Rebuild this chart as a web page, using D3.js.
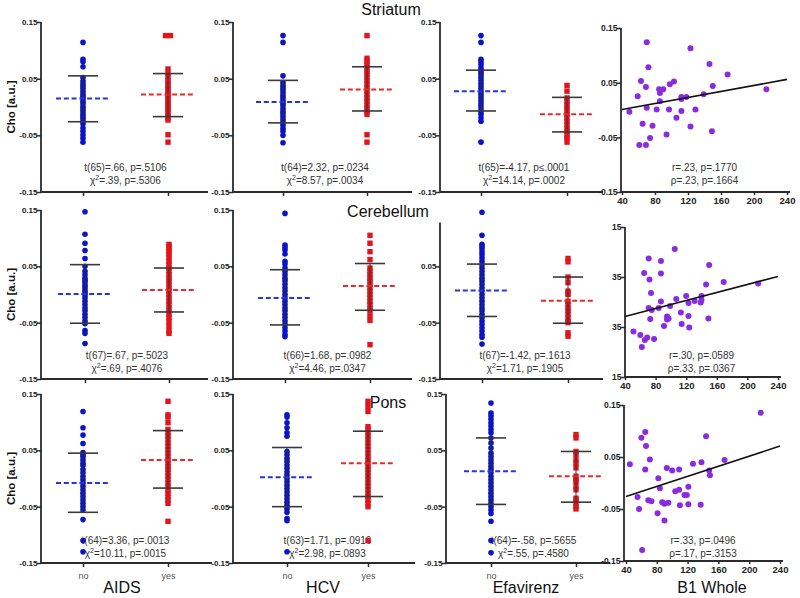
<!DOCTYPE html>
<html><head><meta charset="utf-8">
<script src="https://cdn.jsdelivr.net/npm/d3@7"></script>
<style>
body{margin:0;background:#fff}
svg{display:block;font-family:"Liberation Sans",Arial,sans-serif}
</style>
</head><body>
<svg id="chart" width="800" height="598"></svg>
<script>
// ---------------- DATA ----------------
const regions = ["Striatum", "Cerebellum", "Pons"];
const factors = ["AIDS", "HCV", "Efavirenz"];
const categories = ["no", "yes"];
const yTickValues = [0.15, 0.05, -0.05, -0.15];
const b1Ticks = [40, 80, 120, 160, 200, 240];
const cerScatterYLabels = ["15", "35", "35", "15"];

// Striatum Cho values (no / yes)
const strAidsNo = [0.114,0.084,0.080,0.071,0.052,0.046,0.041,0.037,0.033,0.028,0.023,0.019,0.015,0.010,0.006,0.001,-0.003,-0.007,-0.012,-0.016,-0.020,-0.025,-0.030,-0.037,-0.043,-0.049,-0.055,-0.062];
const strAidsYes = [0.126,0.126,0.067,0.059,0.053,0.047,0.042,0.038,0.033,0.028,0.023,0.019,0.014,0.009,0.004,0.000,-0.005,-0.010,-0.015,-0.019,-0.023,-0.049,-0.062];
const strHcvNo = [0.126,0.114,0.055,0.043,0.038,0.034,0.030,0.025,0.020,0.016,0.011,0.006,0.002,-0.003,-0.008,-0.012,-0.017,-0.022,-0.027,-0.032,-0.038,-0.043,-0.050,-0.063];
const strHcvYes = [0.126,0.086,0.081,0.075,0.069,0.063,0.058,0.052,0.046,0.040,0.034,0.028,0.022,0.016,0.010,0.004,-0.002,-0.008,-0.013,-0.049,-0.062];
const strEfvNo = [0.126,0.114,0.084,0.080,0.075,0.069,0.065,0.061,0.057,0.052,0.047,0.042,0.037,0.032,0.027,0.022,0.017,0.012,0.007,0.002,-0.003,-0.008,-0.013,-0.019,-0.025,-0.062];
const strEfvYes = [0.038,0.028,0.016,0.010,0.004,-0.001,-0.007,-0.013,-0.019,-0.025,-0.031,-0.037,-0.043,-0.049,-0.055,-0.062];

// Cerebellum
const cerAidsNo = [0.147,0.107,0.091,0.078,0.064,0.050,0.041,0.035,0.029,0.025,0.021,0.016,0.012,0.007,0.003,-0.001,-0.006,-0.012,-0.018,-0.024,-0.029,-0.035,-0.041,-0.047,-0.052,-0.064,-0.069,-0.087];
const cerAidsYes = [0.089,0.085,0.081,0.076,0.071,0.065,0.059,0.053,0.047,0.041,0.035,0.029,0.024,0.018,0.012,0.006,0.000,-0.006,-0.012,-0.018,-0.024,-0.029,-0.035,-0.041,-0.048,-0.056,-0.064,-0.069];
const cerHcvNo = [0.144,0.088,0.084,0.079,0.072,0.059,0.054,0.047,0.041,0.035,0.029,0.024,0.018,0.012,0.006,0.000,-0.006,-0.012,-0.018,-0.024,-0.029,-0.035,-0.041,-0.047,-0.053,-0.059,-0.065,-0.071,-0.075];
const cerHcvYes = [0.105,0.091,0.076,0.062,0.047,0.041,0.035,0.029,0.024,0.018,0.012,0.006,0.000,-0.006,-0.012,-0.018,-0.024,-0.029,-0.038,-0.046,-0.089];
const cerEfvNo = [0.146,0.105,0.089,0.085,0.081,0.076,0.071,0.065,0.059,0.053,0.047,0.041,0.035,0.029,0.024,0.018,0.012,0.006,0.000,-0.006,-0.012,-0.018,-0.024,-0.029,-0.035,-0.041,-0.047,-0.053,-0.059,-0.065,-0.071,-0.076,-0.088];
const cerEfvYes = [0.064,0.058,0.031,0.021,0.006,0.003,0.000,-0.012,-0.018,-0.024,-0.029,-0.035,-0.041,-0.047,-0.050,-0.068,-0.074];

// Pons
const ponAidsNo = [0.119,0.090,0.077,0.062,0.046,0.042,0.039,0.033,0.027,0.023,0.016,0.010,0.004,-0.002,-0.008,-0.014,-0.020,-0.026,-0.032,-0.038,-0.044,-0.050,-0.056,-0.073,-0.110,-0.130];
const ponAidsYes = [0.137,0.113,0.109,0.099,0.087,0.081,0.075,0.069,0.063,0.057,0.051,0.045,0.039,0.033,0.027,0.021,0.016,0.010,0.004,-0.002,-0.008,-0.014,-0.020,-0.026,-0.032,-0.038,-0.044,-0.076];
const ponHcvNo = [0.113,0.109,0.099,0.090,0.081,0.075,0.048,0.042,0.036,0.030,0.024,0.018,0.012,0.006,0.000,-0.006,-0.012,-0.018,-0.024,-0.030,-0.036,-0.042,-0.048,-0.054,-0.060,-0.071,-0.075,-0.130];
const ponHcvYes = [0.137,0.128,0.119,0.092,0.087,0.081,0.075,0.069,0.063,0.057,0.051,0.045,0.039,0.033,0.027,0.021,0.016,0.010,0.004,-0.002,-0.008,-0.014,-0.020,-0.026,-0.032,-0.038,-0.044,-0.050,-0.110];
const ponEfvNo = [0.134,0.116,0.111,0.105,0.099,0.093,0.087,0.081,0.072,0.063,0.054,0.045,0.039,0.033,0.027,0.021,0.016,0.010,0.004,-0.002,-0.008,-0.014,-0.020,-0.026,-0.032,-0.038,-0.044,-0.050,-0.056,-0.062,-0.076,-0.110,-0.132];
const ponEfvYes = [0.078,0.072,0.048,0.042,0.033,0.027,0.019,0.004,-0.002,-0.005,-0.014,-0.020,-0.035,-0.038,-0.044,-0.050,-0.054];

// Group means and mean±SD bars, order: AIDS no, AIDS yes, HCV no, HCV yes, Efv no, Efv yes
const strMeans = [0.015, 0.022, 0.009, 0.031, 0.028, -0.013];
const strSdHi  = [0.055, 0.059, 0.047, 0.071, 0.065, 0.017];
const strSdLo  = [-0.026, -0.017, -0.028, -0.007, -0.007, -0.044];
const cerMeans = [0.001, 0.008, -0.006, 0.015, 0.007, -0.011];
const cerSdHi  = [0.053, 0.047, 0.044, 0.055, 0.054, 0.031];
const cerSdLo  = [-0.051, -0.031, -0.054, -0.028, -0.039, -0.051];
const ponMeans = [-0.008, 0.033, 0.002, 0.027, 0.013, 0.004];
const ponSdHi  = [0.045, 0.085, 0.055, 0.084, 0.072, 0.048];
const ponSdLo  = [-0.060, -0.017, -0.050, -0.032, -0.046, -0.042];

// B1 Whole scatter
const strB1 = [49,59,61,63,65,69,70,69,70,72,74,77,82,85,86,86,90,94,97,98,103,106,112,112,112,118,123,123,129,139,146,149,150,168,215];
const strB1Cho = [-0.003,0.025,-0.064,0.053,-0.025,0.042,0.124,-0.064,0.004,0.078,-0.051,-0.029,0.001,0.038,0.031,0.016,0.038,-0.045,0.001,0.047,0.052,-0.014,-0.002,0.024,0.020,0.024,0.113,-0.030,0.001,0.029,0.084,-0.039,0.044,0.065,0.038];
const cerB1 = [51,60,62,65,66,69,71,72,71,73,74,75,78,84,87,87,87,91,95,97,99,95,105,107,113,114,120,123,123,124,131,139,140,140,146,149,150,169,214];
const cerB1Cho = [-0.059,-0.066,-0.090,0.058,-0.076,-0.071,0.087,0.045,-0.012,-0.034,0.018,-0.016,-0.074,-0.012,0.001,0.082,0.057,-0.048,-0.029,-0.033,-0.008,-0.035,0.106,0.006,-0.021,-0.044,0.012,-0.002,-0.028,-0.051,0.002,-0.001,0.012,0.004,0.035,-0.033,0.074,0.040,0.037];
const ponB1 = [45,55,57,60,61,65,65,66,69,71,73,82,81,84,87,90,90,93,95,100,104,109,109,110,116,119,121,121,127,137,138,144,148,149,168,215];
const ponB1Cho = [0.036,-0.027,-0.050,0.087,-0.129,0.098,0.026,0.071,-0.033,0.045,-0.035,0.009,-0.058,-0.010,-0.037,-0.072,-0.040,0.029,-0.038,0.024,-0.016,0.026,-0.013,-0.043,-0.023,-0.023,-0.007,-0.041,0.037,-0.042,0.040,0.090,0.024,0.015,0.044,0.135];
const fitB1 = [40, 240];
const strFit = [0.001, 0.056];
const cerFit = [-0.029, 0.051];
const ponFit = [-0.026, 0.071];

// Statistics text
const strTtests = ["t(65)=.66, p=.5106", "t(64)=2.32, p=.0234", "t(65)=-4.17, p\u2264.0001"];
const strChi = ["=.39, p=.5306", "=8.57, p=.0034", "=14.14, p=.0002"];
const cerTtests = ["t(67)=.67, p=.5023", "t(66)=1.68, p=.0982", "t(67)=-1.42, p=.1613"];
const cerChi = ["=.69, p=.4076", "=4.46, p=.0347", "=1.71, p=.1905"];
const ponTtests = ["t(64)=3.36, p=.0013", "t(63)=1.71, p=.0916", "t(64)=-.58, p=.5655"];
const ponChi = ["=10.11, p=.0015", "=2.98, p=.0893", "=.55, p=.4580"];
const corrR = ["r=.23, p=.1770", "r=.30, p=.0589", "r=.33, p=.0496"];
const corrRho = ["\u03C1=.23, p=.1664", "\u03C1=.33, p=.0367", "\u03C1=.17, p=.3153"];

// ---------------- ASSEMBLY ----------------
const rowData = [
  {groups:[[strAidsNo,strAidsYes],[strHcvNo,strHcvYes],[strEfvNo,strEfvYes]], means:strMeans, hi:strSdHi, lo:strSdLo,
   bx:strB1, by:strB1Cho, fit:strFit, t:strTtests, chi:strChi},
  {groups:[[cerAidsNo,cerAidsYes],[cerHcvNo,cerHcvYes],[cerEfvNo,cerEfvYes]], means:cerMeans, hi:cerSdHi, lo:cerSdLo,
   bx:cerB1, by:cerB1Cho, fit:cerFit, t:cerTtests, chi:cerChi},
  {groups:[[ponAidsNo,ponAidsYes],[ponHcvNo,ponHcvYes],[ponEfvNo,ponEfvYes]], means:ponMeans, hi:ponSdHi, lo:ponSdLo,
   bx:ponB1, by:ponB1Cho, fit:ponFit, t:ponTtests, chi:ponChi}
];

const layout = [
  {yTop:22, yBot:192,
   panels:[{ax:41,c0:83,c1:168,xEnd:208},{ax:233,c0:283,c1:367,xEnd:412},{ax:440,c0:481,c1:567,xEnd:603}],
   sc:{ax:621,x0:622,x1:787,yTop:28,yBot:192}, stat:[171,184], title:[391,15]},
  {yTop:210, yBot:379,
   panels:[{ax:41,c0:85,c1:169,xEnd:208},{ax:233,c0:285,c1:370,xEnd:412},{ax:440,c0:482,c1:568,xEnd:603,axTop:0.128}],
   sc:{ax:625,x0:625,x1:778,yTop:227,yBot:377}, stat:[359,372], title:[388,217]},
  {yTop:394, yBot:563,
   panels:[{ax:41,c0:83,c1:168,xEnd:212,lab:122},{ax:233,c0:287,c1:368,xEnd:415,lab:323},{ax:446,c0:491,c1:576,xEnd:610,lab:526}],
   sc:{ax:624,x0:626,x1:780,yTop:405,yBot:561}, stat:[544,557], title:[388,408]}
];

const BLUE = "#0b14c4", RED = "#e3141c", PURPLE = "#8a2be2", AX = "#2b2b2b", TXT = "#333";
const svg = d3.select("#chart");
const fmt = d => d.toFixed(2);

function statText(g, x, y, str) {
  g.append("text").attr("x", x).attr("y", y).attr("text-anchor", "middle")
    .attr("font-size", 10).attr("fill", TXT).text(str);
}
function chiText(g, x, y, rest) {
  const t = g.append("text").attr("x", x).attr("y", y).attr("text-anchor", "middle")
    .attr("font-size", 10).attr("fill", TXT);
  t.append("tspan").text("\u03C7");
  t.append("tspan").attr("dy", -4).attr("font-size", 7).text("2");
  t.append("tspan").attr("dy", 4).text(rest);
}

layout.forEach((L, r) => {
  const D = rowData[r];
  const y = d3.scaleLinear().domain([-0.15, 0.15]).range([L.yBot, L.yTop]);

  // Row title
  svg.append("text").attr("x", L.title[0]).attr("y", L.title[1]).attr("text-anchor", "middle")
    .attr("font-size", 16).attr("fill", "#111").text(regions[r]);

  // y-axis title
  svg.append("text").attr("transform", `translate(15,${(L.yTop + L.yBot) / 2}) rotate(-90)`)
    .attr("text-anchor", "middle").attr("font-size", 11.5).attr("font-weight", "bold")
    .attr("fill", "#111").text("Cho [a.u.]");

  L.panels.forEach((P, p) => {
    const g = svg.append("g");
    const x = d3.scalePoint().domain(categories).range([P.c0, P.c1]);
    const top = P.axTop !== undefined ? P.axTop : 0.15;

    // stats text
    const cx = (P.c0 + P.c1) / 2;
    statText(g, cx, L.stat[0], D.t[p]);
    chiText(g, cx, L.stat[1], D.chi[p]);

    // y axis
    const ya = g.append("g").attr("transform", `translate(${P.ax},0)`)
      .call(d3.axisLeft(y).tickValues(yTickValues.filter(v => v <= top)).tickFormat(fmt).tickSize(4).tickSizeOuter(0));
    ya.select(".domain").remove();
    ya.selectAll("line").attr("stroke", AX).attr("stroke-width", 1.5);
    ya.selectAll("text").attr("font-size", 8).attr("font-weight", "bold").attr("fill", "#222")
      .attr("font-family", "Liberation Sans, Arial, sans-serif").attr("x", -3.5);
    g.append("line").attr("x1", P.ax).attr("x2", P.ax).attr("y1", y(top)).attr("y2", y(-0.15))
      .attr("stroke", AX).attr("stroke-width", 1.8);

    // x axis
    const xa = g.append("g").attr("transform", `translate(0,${L.yBot})`)
      .call(d3.axisBottom(x).tickSize(4).tickSizeOuter(0).tickFormat(r === 2 ? (d => d) : (() => "")));
    xa.select(".domain").remove();
    xa.selectAll("line").attr("stroke", AX).attr("stroke-width", 1.5);
    xa.selectAll("text").attr("font-size", 9).attr("fill", "#555").attr("y", 9.5)
      .attr("font-family", "Liberation Sans, Arial, sans-serif");
    g.append("line").attr("x1", P.ax).attr("x2", P.xEnd).attr("y1", L.yBot).attr("y2", L.yBot)
      .attr("stroke", AX).attr("stroke-width", 1.8);

    // points
    categories.forEach((c, k) => {
      const vals = D.groups[p][k];
      const counts = {};
      const pts = vals.map(v => { const key = v.toFixed(3); counts[key] = (counts[key] || 0) + 1; return {v, i: counts[key] - 1, key}; });
      pts.forEach(o => o.n = counts[o.key]);
      const px = o => x(c) + (o.i - (o.n - 1) / 2) * 5;
      if (k === 0) {
        g.selectAll(null).data(pts).enter().append("circle")
          .attr("cx", px).attr("cy", o => y(o.v)).attr("r", 2.8).attr("fill", BLUE);
      } else {
        g.selectAll(null).data(pts).enter().append("rect")
          .attr("x", o => px(o) - 2.7).attr("y", o => y(o.v) - 2.7).attr("width", 5.4).attr("height", 5.4).attr("fill", RED);
      }
      const idx = p * 2 + k;
      // SD bars
      g.append("line").attr("x1", x(c)).attr("x2", x(c)).attr("y1", y(D.hi[idx])).attr("y2", y(D.lo[idx]))
        .attr("stroke", "#333").attr("stroke-width", 1.2).attr("opacity", 0.8);
      [D.hi[idx], D.lo[idx]].forEach(v => {
        g.append("line").attr("x1", x(c) - 15).attr("x2", x(c) + 15).attr("y1", y(v)).attr("y2", y(v))
          .attr("stroke", "#3a3a3a").attr("stroke-width", 1.6);
      });
      // mean dashed
      g.append("line").attr("x1", x(c) - 27).attr("x2", x(c) + 27).attr("y1", y(D.means[idx])).attr("y2", y(D.means[idx]))
        .attr("stroke", k === 0 ? "#2a35d8" : "#e82a2a").attr("stroke-width", 2).attr("stroke-dasharray", "5,2.8");
    });

    if (r === 2) {
      svg.append("text").attr("x", P.lab).attr("y", 593).attr("text-anchor", "middle")
        .attr("font-size", 16).attr("fill", "#111").text(factors[p]);
    }
  });

  // Scatter panel
  const S = L.sc;
  const g = svg.append("g");
  const xs = d3.scaleLinear().domain([40, 240]).range([S.x0, S.x1]);
  const ys = d3.scaleLinear().domain([-0.15, 0.15]).range([S.yBot, S.yTop]);
  const scx = (S.x0 + S.x1) / 2;
  statText(g, scx, L.stat[0], corrR[r]);
  statText(g, scx, L.stat[1], corrRho[r]);

  const ya = g.append("g").attr("transform", `translate(${S.ax},0)`)
    .call(d3.axisLeft(ys).tickValues(yTickValues).tickSize(4).tickSizeOuter(0)
      .tickFormat((d, i) => r === 1 ? cerScatterYLabels[i] : fmt(d)));
  ya.select(".domain").remove();
  ya.selectAll("line").attr("stroke", AX).attr("stroke-width", 1.5);
  ya.selectAll("text").attr("font-size", 8.5).attr("font-weight", "bold").attr("fill", "#222")
    .attr("font-family", "Liberation Sans, Arial, sans-serif").attr("x", -3.5);
  g.append("line").attr("x1", S.ax).attr("x2", S.ax).attr("y1", S.yTop).attr("y2", S.yBot)
    .attr("stroke", AX).attr("stroke-width", 1.8);

  const xa = g.append("g").attr("transform", `translate(0,${S.yBot})`)
    .call(d3.axisBottom(xs).tickValues(b1Ticks).tickSize(3).tickSizeOuter(0).tickFormat(d => d));
  xa.select(".domain").remove();
  xa.selectAll("line").attr("stroke", AX).attr("stroke-width", 1.5);
  xa.selectAll("text").attr("font-size", 9.5).attr("font-weight", "bold").attr("fill", "#222")
    .attr("font-family", "Liberation Sans, Arial, sans-serif").attr("y", 5);
  g.append("line").attr("x1", S.ax).attr("x2", S.x1 + 3).attr("y1", S.yBot).attr("y2", S.yBot)
    .attr("stroke", AX).attr("stroke-width", 1.8);

  g.selectAll(null).data(D.bx.map((b, i) => [b, D.by[i]])).enter().append("circle")
    .attr("cx", d => xs(d[0])).attr("cy", d => ys(d[1])).attr("r", 3).attr("fill", PURPLE);

  g.append("line").attr("x1", xs(fitB1[0])).attr("x2", xs(fitB1[1]))
    .attr("y1", ys(D.fit[0])).attr("y2", ys(D.fit[1])).attr("stroke", "#111").attr("stroke-width", 1.6);

  if (r === 2) {
    svg.append("text").attr("x", 712).attr("y", 593).attr("text-anchor", "middle")
      .attr("font-size", 16).attr("fill", "#111").text("B1 Whole");
  }
});
</script>
</body></html>
